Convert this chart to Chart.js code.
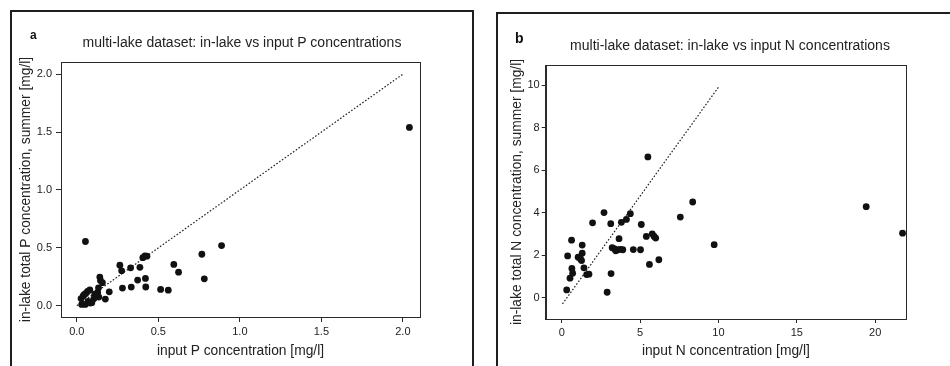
<!DOCTYPE html>
<html>
<head>
<meta charset="utf-8">
<script src="https://cdn.jsdelivr.net/npm/chart.js@4/dist/chart.umd.min.js"></script>
<style>
  html, body { margin: 0; padding: 0; background: #fff; }
  body { width: 950px; height: 366px; position: relative; overflow: hidden; font-family: "Liberation Sans", Arial, sans-serif; color: #222; }
  .frame { position: absolute; border: 2px solid #1e1e1e; border-bottom: none; }
  .cv { position: absolute; top: 0; }
  .letter { position: absolute; font-weight: bold; font-size: 12px; color: #111; }
  .ttl { position: absolute; font-size: 14px; line-height: 16px; color: #222; white-space: nowrap; transform: translateX(-50%); }
</style>
</head>
<body>
<div class="frame" style="left:10px; top:10px; width:460px; height:400px;"></div>
<div class="frame" style="left:496px; top:12px; width:500px; height:400px;"></div>
<canvas id="ca" class="cv" width="475" height="366" style="left:0px;"></canvas>
<canvas id="cb" class="cv" width="475" height="366" style="left:475px;"></canvas>
<div class="letter" style="left:30px; top:28px;">a</div>
<div class="ttl" style="left:242px; top:34px;">multi-lake dataset: in-lake vs input P concentrations</div>
<div class="letter" style="left:515px; top:30px; font-size:14px;">b</div>
<div class="ttl" style="left:730px; top:37px;">multi-lake dataset: in-lake vs input N concentrations</div>
<script>
// ---------- Panel a: phosphorus ----------
const pInput  = [2.04, 0.053, 0.888, 0.767, 0.782, 0.595, 0.624, 0.514, 0.561, 0.405, 0.418, 0.43,
                 0.387, 0.33, 0.264, 0.275, 0.373, 0.421, 0.423, 0.334, 0.28, 0.199, 0.175, 0.141,
                 0.145, 0.157, 0.133, 0.128, 0.135, 0.11, 0.104, 0.092, 0.08, 0.066, 0.055, 0.039,
                 0.026, 0.03, 0.052, 0.069, 0.083, 0.118, 0.045];
const pInLake = [1.54, 0.555, 0.52, 0.445, 0.233, 0.357, 0.29, 0.141, 0.135, 0.415, 0.43, 0.428,
                 0.332, 0.328, 0.35, 0.302, 0.222, 0.236, 0.162, 0.161, 0.153, 0.12, 0.058, 0.248,
                 0.218, 0.199, 0.155, 0.115, 0.075, 0.1, 0.06, 0.027, 0.138, 0.124, 0.107, 0.085,
                 0.062, 0.012, 0.012, 0.038, 0.024, 0.085, 0.095];
const pLineX = [0.0, 2.0];
const pLineY = [0.0, 2.0];
const pXTicks = [0.0, 0.5, 1.0, 1.5, 2.0];
const pXTickLabels = ["0.0", "0.5", "1.0", "1.5", "2.0"];
const pYTicks = [0.0, 0.5, 1.0, 1.5, 2.0];
const pYTickLabels = ["0.0", "0.5", "1.0", "1.5", "2.0"];

// ---------- Panel b: nitrogen ----------
const nInput  = [19.43, 21.75, 5.5, 8.36, 7.57, 9.73, 2.7, 1.97, 3.13, 3.81, 4.13, 4.38, 5.08, 5.4,
                 5.78, 5.9, 6.0, 3.66, 5.03, 4.57, 3.22, 3.35, 3.45, 3.6, 3.75, 3.9, 5.6, 6.2, 3.15,
                 2.9, 0.63, 0.38, 1.31, 1.05, 1.2, 1.31, 1.27, 0.65, 0.7, 0.53, 1.42, 1.59, 1.74, 0.32];
const nInLake = [4.28, 3.03, 6.62, 4.5, 3.79, 2.49, 4.0, 3.52, 3.48, 3.54, 3.68, 3.95, 3.44, 2.88,
                 3.0, 2.88, 2.8, 2.77, 2.25, 2.26, 2.35, 2.3, 2.2, 2.25, 2.27, 2.25, 1.56, 1.78, 1.13,
                 0.25, 2.7, 1.96, 2.47, 1.9, 1.82, 2.09, 1.74, 1.37, 1.15, 0.91, 1.4, 1.08, 1.1, 0.36];
const nLineX = [0.05, 10.0];
const nLineY = [-0.3, 9.9];
const nXTicks = [0, 5, 10, 15, 20];
const nXTickLabels = ["0", "5", "10", "15", "20"];
const nYTicks = [0, 2, 4, 6, 8, 10];
const nYTickLabels = ["0", "2", "4", "6", "8", "10"];

const INK = '#2a2a2a';
const boxPlugin = {
  id: 'box',
  afterDraw(chart) {
    const {ctx, chartArea: a} = chart;
    ctx.save();
    ctx.strokeStyle = INK;
    ctx.lineWidth = 1;
    ctx.strokeRect(Math.round(a.left) + 0.5, Math.round(a.top) + 0.5,
                   Math.round(a.right - a.left), Math.round(a.bottom - a.top));
    ctx.restore();
  }
};

function makeChart(id, cfg) {
  const pts = cfg.xs.map((x, i) => ({x: x, y: cfg.ys[i]}));
  const line = cfg.lx.map((x, i) => ({x: x, y: cfg.ly[i]}));
  const axisCommon = {
    grid: {display: true, drawOnChartArea: false, drawTicks: true, tickLength: cfg.tl, color: INK, lineWidth: 1},
    border: {display: true, color: INK, width: 1},
  };
  return new Chart(document.getElementById(id), {
    type: 'scatter',
    data: {
      datasets: [
        {data: line, showLine: true, borderColor: '#222', borderWidth: 1.2, borderDash: [1.6, 1.8],
         pointRadius: 0, fill: false, order: 2},
        {data: pts, pointRadius: 3.4, pointBackgroundColor: '#111', pointBorderWidth: 0,
         pointBorderColor: '#111', showLine: false, order: 1}
      ]
    },
    options: {
      responsive: false,
      animation: false,
      events: [],
      layout: {padding: {left: 0, top: cfg.top, right: cfg.right, bottom: 0}},
      plugins: {legend: {display: false}, tooltip: {enabled: false}, title: {display: false}},
      scales: {
        x: Object.assign({}, axisCommon, {
          type: 'linear', position: 'bottom', min: cfg.xmin, max: cfg.xmax,
          afterBuildTicks: s => { s.ticks = cfg.xt.map(v => ({value: v})); },
          afterFit: s => { s.height = cfg.xh; },
          ticks: {color: '#222', font: {family: 'Liberation Sans', size: 11}, padding: 3,
                  maxRotation: 0, autoSkip: false, callback: (v, i) => cfg.xtl[i]},
          title: {display: true, text: cfg.xtitle, color: '#222',
                  font: {family: 'Liberation Sans', size: 13.8}, padding: {top: 0, bottom: 7}}
        }),
        y: Object.assign({}, axisCommon, {
          type: 'linear', position: 'left', min: cfg.ymin, max: cfg.ymax,
          afterBuildTicks: s => { s.ticks = cfg.yt.map(v => ({value: v})); },
          afterFit: s => { s.width = cfg.yw; },
          ticks: {color: '#222', font: {family: 'Liberation Sans', size: 11}, padding: cfg.ypad,
                  autoSkip: false, callback: (v, i) => cfg.ytl[i]},
          title: {display: true, text: cfg.ytitle, color: '#222',
                  font: {family: 'Liberation Sans', size: 13.8}, padding: {top: cfg.ytpad, bottom: 0}}
        })
      }
    },
    plugins: [boxPlugin]
  });
}

makeChart('ca', {
  xs: pInput, ys: pInLake, lx: pLineX, ly: pLineY,
  xt: pXTicks, xtl: pXTickLabels, yt: pYTicks, ytl: pYTickLabels,
  xmin: -0.097, xmax: 2.105, ymin: -0.097, ymax: 2.105,
  top: 62, right: 55, xh: 49, yw: 61, ytpad: 17.5, tl: 5, ypad: 4,
  xtitle: 'input P concentration [mg/l]',
  ytitle: 'in-lake total P concentration, summer [mg/l]'
});

makeChart('cb', {
  xs: nInput, ys: nInLake, lx: nLineX, ly: nLineY,
  xt: nXTicks, xtl: nXTickLabels, yt: nYTicks, ytl: nYTickLabels,
  xmin: -1.02, xmax: 21.97, ymin: -1.01, ymax: 10.95,
  top: 65, right: 44, xh: 47, yw: 70.7, ytpad: 33.5, tl: 4, ypad: 2,
  xtitle: 'input N concentration [mg/l]',
  ytitle: 'in-lake total N concentration, summer [mg/l]'
});
</script>
</body>
</html>
